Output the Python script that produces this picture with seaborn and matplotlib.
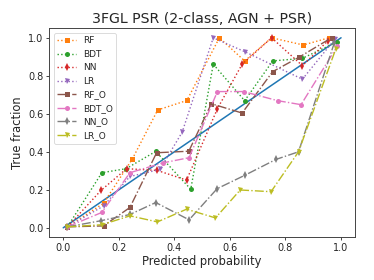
import matplotlib
matplotlib.use("Agg")
import matplotlib.pyplot as plt
import seaborn as sns
import numpy as np

# ---- data ----
rf_x = [0.015, 0.145, 0.249, 0.340, 0.445, 0.562, 0.653, 0.750, 0.864, 0.957]
rf_y = [0.005, 0.129, 0.363, 0.620, 0.670, 1.000, 0.878, 1.000, 0.962, 1.000]

bdt_x = [0.015, 0.139, 0.226, 0.333, 0.459, 0.540, 0.653, 0.754, 0.861, 0.987]
bdt_y = [0.005, 0.290, 0.311, 0.402, 0.203, 0.861, 0.669, 0.878, 0.892, 0.979]

nn_x = [0.015, 0.136, 0.228, 0.338, 0.444, 0.555, 0.644, 0.750, 0.861, 0.952]
nn_y = [0.005, 0.197, 0.311, 0.302, 0.251, 0.627, 0.861, 1.000, 0.853, 0.983]

lr_x = [0.015, 0.145, 0.240, 0.348, 0.428, 0.540, 0.653, 0.861, 0.978]
lr_y = [0.005, 0.115, 0.270, 0.307, 0.503, 1.000, 0.927, 0.782, 0.993]

rfo_x = [0.015, 0.145, 0.240, 0.336, 0.452, 0.533, 0.644, 0.754, 0.848, 0.966]
rfo_y = [0.005, 0.010, 0.107, 0.395, 0.403, 0.653, 0.604, 0.822, 0.897, 1.000]

bdto_x = [0.015, 0.139, 0.240, 0.360, 0.453, 0.555, 0.649, 0.772, 0.856, 0.987]
bdto_y = [0.005, 0.081, 0.290, 0.342, 0.369, 0.717, 0.717, 0.669, 0.648, 0.957]

nno_x = [0.015, 0.135, 0.240, 0.333, 0.453, 0.554, 0.653, 0.766, 0.847, 0.975]
nno_y = [0.005, 0.037, 0.070, 0.133, 0.042, 0.206, 0.276, 0.360, 0.400, 0.970]

lro_x = [0.015, 0.139, 0.240, 0.339, 0.444, 0.548, 0.637, 0.748, 0.847, 0.981]
lro_y = [0.005, 0.016, 0.063, 0.031, 0.098, 0.052, 0.199, 0.190, 0.400, 0.941]

names = ["RF", "BDT", "NN", "LR", "RF_O", "BDT_O", "NN_O", "LR_O"]
xs = [rf_x, bdt_x, nn_x, lr_x, rfo_x, bdto_x, nno_x, lro_x]
ys = [rf_y, bdt_y, nn_y, lr_y, rfo_y, bdto_y, nno_y, lro_y]
markers = ["s", "o", "d", "v", "s", "o", "d", "v"]
styles = [":", ":", ":", ":", "-.", "-.", "-.", "-."]
colors = ["C1", "C2", "C3", "C4", "C5", "C6", "C7", "C8"]

title = "3FGL PSR (2-class, AGN + PSR)"
xlabel = "Predicted probability"
ylabel = "True fraction"

sns.set_style("white")
plt.rcParams["font.family"] = ["DejaVu Sans"]

fig = plt.figure(figsize=(3.74, 2.80), dpi=100)
ax = fig.add_axes([0.132, 0.1525, 0.817, 0.7465])

sns.lineplot(x=[0, 1], y=[0, 1], color="C0", linewidth=1.1, ax=ax)

for n, x, y, m, ls, c in zip(names, xs, ys, markers, styles, colors):
    sns.lineplot(x=x, y=y, label=n, marker=m, linestyle=ls, color=c,
                 linewidth=1.0, markersize=3.6, markeredgewidth=0,
                 markeredgecolor=c, ax=ax)

ax.set_xlim(-0.05, 1.05)
ax.set_ylim(-0.05, 1.05)
ax.set_xticks(np.arange(0, 1.01, 0.2))
ax.set_yticks(np.arange(0, 1.01, 0.2))
ax.tick_params(axis="both", labelsize=7, length=2.2, width=0.6,
               direction="out", bottom=True, left=True, pad=2)
for s in ax.spines.values():
    s.set_color("#444444")
    s.set_linewidth(0.7)

ax.set_title(title, fontsize=10.2, pad=4)
ax.set_xlabel(xlabel, fontsize=8.3, labelpad=1)
ax.set_ylabel(ylabel, fontsize=8.3, labelpad=3)

leg = ax.legend(loc="upper left", fontsize=6.5, frameon=True,
                handlelength=2.0, borderpad=0.4, labelspacing=0.5)
leg.get_frame().set_edgecolor("#cccccc")
leg.get_frame().set_linewidth(0.6)

fig.savefig("out.png", dpi=100)
